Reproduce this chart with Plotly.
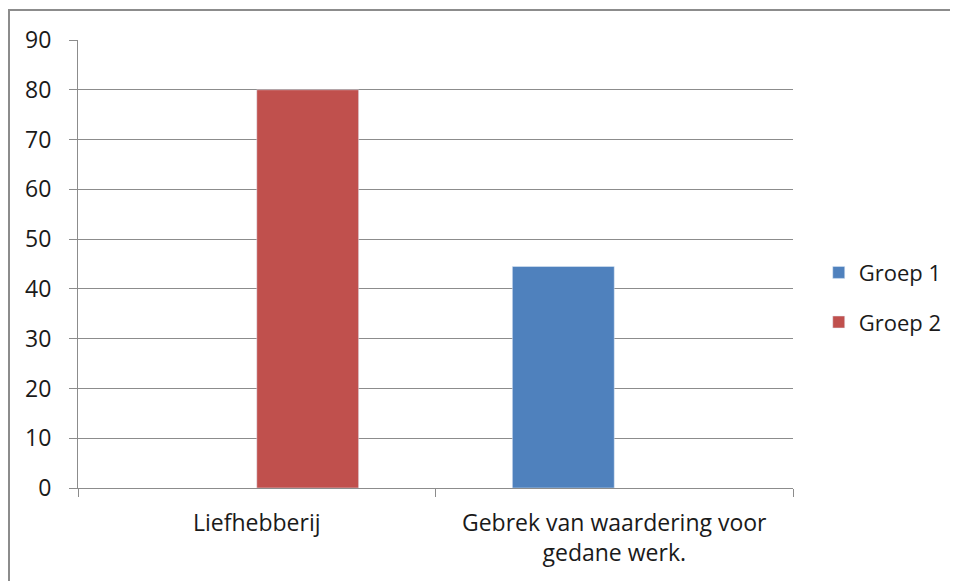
import plotly.graph_objects as go

categories = ["Liefhebberij", "Gebrek van waardering voor<br>gedane werk."]
groep_1 = [None, 44.5]
groep_2 = [80, None]

fig = go.Figure()
fig.add_trace(go.Bar(x=categories, y=groep_1, name="Groep 1", legendgroup="g1",
                     marker=dict(color="#4F81BD")))
fig.add_trace(go.Bar(x=categories, y=groep_2, name="Groep 2", legendgroup="g2",
                     marker=dict(color="#C0504D")))

# outer chart border, cropped on the right and bottom like the screenshot
fig.add_shape(
    type="rect", xref="paper", yref="paper",
    x0=-0.0965, x1=2, y0=-2, y1=1.067,
    line=dict(color="#8c8c8c", width=2), layer="below",
)

fig.update_layout(
    width=950,
    height=573,
    margin=dict(l=70, r=165, t=32, b=93, autoexpand=False),
    paper_bgcolor="white",
    plot_bgcolor="white",
    barmode="group",
    bargap=0.43,
    bargroupgap=0,
    font=dict(family="Open Sans, sans-serif", size=23, color="#1a1a1a"),
    legend=dict(
        x=1.036, y=0.425, xanchor="left", yanchor="middle",
        font=dict(size=22), tracegroupgap=18,
    ),
)
fig.update_xaxes(
    showline=True, linecolor="#8c8c8c", linewidth=1,
    ticks="outside", tickson="boundaries", ticklen=8, tickcolor="#8c8c8c",
    ticklabelstandoff=14, showgrid=False, automargin=False,
)
fig.update_yaxes(
    range=[0, 90], dtick=10,
    showline=True, linecolor="#8c8c8c", linewidth=1,
    ticks="outside", ticklen=8, tickcolor="#8c8c8c",
    showgrid=True, gridcolor="#8c8c8c", gridwidth=1,
    zeroline=False, ticklabelstandoff=13, automargin=False,
)

fig.write_html("out.html")
